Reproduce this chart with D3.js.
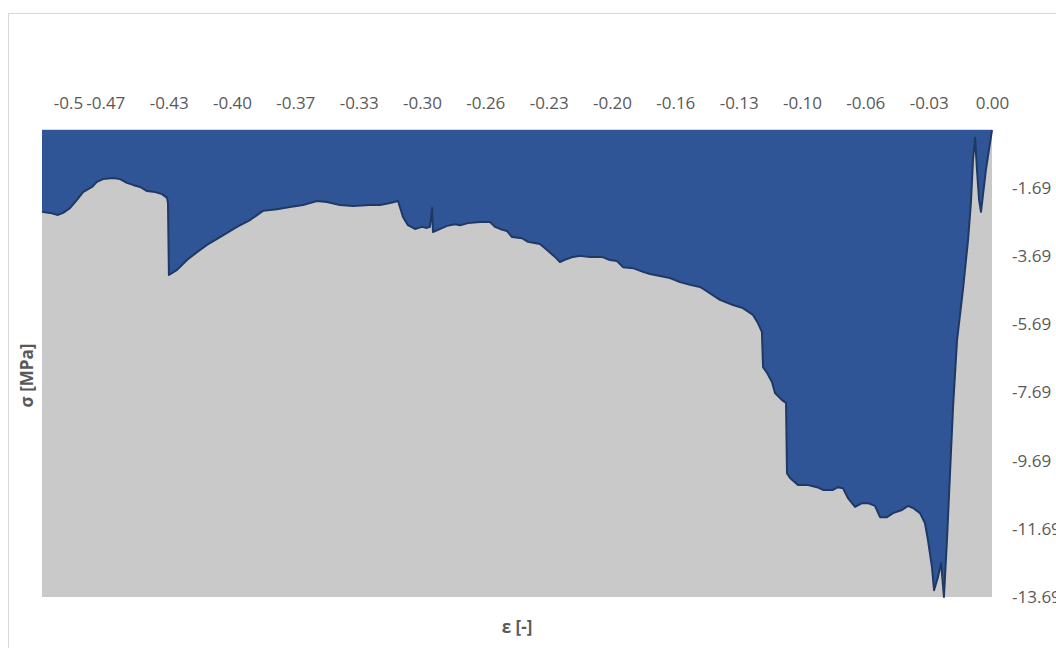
<!DOCTYPE html>
<html>
<head>
<meta charset="utf-8">
<script src="https://cdn.jsdelivr.net/npm/d3@7"></script>
<style>
  html, body { margin: 0; padding: 0; background: #ffffff; overflow: hidden; }
  svg { display: block; }
  text { font-family: "Open Sans", "Liberation Sans", sans-serif; }
</style>
</head>
<body>
<svg id="chart" width="1056" height="648"></svg>
<script>
// ---- data (strain ε [-], stress σ [MPa]) ----
const strain = [0, -0.0032, -0.0058, -0.0068, -0.0079, -0.0089, -0.0100, -0.0111, -0.0126, -0.0153,
  -0.0184, -0.0205, -0.0221, -0.0237, -0.0253, -0.0268, -0.0284, -0.0305, -0.0316, -0.0337,
  -0.0353, -0.0379, -0.0416, -0.0442, -0.0474, -0.0521, -0.0553, -0.0589, -0.0616, -0.0653,
  -0.0684, -0.0721, -0.0758, -0.0784, -0.0811, -0.0837, -0.0889, -0.0921, -0.0968, -0.1021,
  -0.1063, -0.1079, -0.1084, -0.1105, -0.1142, -0.1158, -0.1184, -0.1205, -0.1211, -0.1232,
  -0.1258, -0.1311, -0.1363, -0.1432, -0.1511, -0.1537, -0.1589, -0.1642, -0.1695, -0.1747,
  -0.1800, -0.1837, -0.1889, -0.1942, -0.1974, -0.2011, -0.2053, -0.2116, -0.2168, -0.2205,
  -0.2237, -0.2274, -0.2300, -0.2342, -0.2379, -0.2442, -0.2474, -0.2526, -0.2553, -0.2589,
  -0.2616, -0.2642, -0.2695, -0.2758, -0.2800, -0.2826, -0.2868, -0.2916, -0.2942, -0.2947,
  -0.2958, -0.2974, -0.3000, -0.3037, -0.3074, -0.3100, -0.3116, -0.3126, -0.3168, -0.3221,
  -0.3274, -0.3363, -0.3432, -0.3500, -0.3553, -0.3626, -0.3695, -0.3763, -0.3837, -0.3905,
  -0.3974, -0.4063, -0.4132, -0.4184, -0.4237, -0.4289, -0.4332, -0.4337, -0.4342, -0.4368,
  -0.4405, -0.4447, -0.4484, -0.4521, -0.4553, -0.4589, -0.4626, -0.4679, -0.4711, -0.4737,
  -0.4784, -0.4816, -0.4853, -0.4889, -0.4916, -0.4958, -0.5000];
const stress = [0, -1.17, -2.40, -2.05, -1.17, -0.23, -0.88, -2.14, -3.22, -4.69,
  -6.16, -8.12, -10.06, -12.02, -13.69, -12.69, -13.10, -13.49, -12.81, -12.02,
  -11.52, -11.23, -11.08, -11.02, -11.14, -11.23, -11.35, -11.35, -11.02, -10.94,
  -10.94, -11.05, -10.79, -10.50, -10.47, -10.55, -10.55, -10.47, -10.41, -10.41,
  -10.20, -10.06, -8.00, -7.92, -7.71, -7.39, -7.12, -6.95, -5.92, -5.66,
  -5.42, -5.22, -5.13, -4.98, -4.69, -4.60, -4.54, -4.46, -4.34, -4.28,
  -4.22, -4.16, -4.05, -4.02, -3.84, -3.81, -3.72, -3.72, -3.69, -3.72,
  -3.78, -3.87, -3.72, -3.52, -3.34, -3.28, -3.17, -3.14, -2.96, -2.90,
  -2.84, -2.70, -2.70, -2.73, -2.79, -2.76, -2.81, -2.93, -2.99, -2.29,
  -2.84, -2.87, -2.84, -2.90, -2.79, -2.55, -2.26, -2.08, -2.14, -2.20,
  -2.20, -2.23, -2.20, -2.11, -2.08, -2.20, -2.26, -2.32, -2.37, -2.64,
  -2.84, -3.14, -3.37, -3.58, -3.81, -4.10, -4.25, -2.14, -1.99, -1.88,
  -1.82, -1.79, -1.67, -1.61, -1.55, -1.44, -1.41, -1.44, -1.52, -1.67,
  -1.82, -2.05, -2.29, -2.43, -2.49, -2.43, -2.40];

const xTickValues = [-0.5, -0.4667, -0.4333, -0.4, -0.3667, -0.3333, -0.3, -0.2667,
  -0.2333, -0.2, -0.1667, -0.1333, -0.1, -0.0667, -0.0333, 0];
const xTickLabels = ["-0.5", "-0.47", "-0.43", "-0.40", "-0.37", "-0.33", "-0.30", "-0.26",
  "-0.23", "-0.20", "-0.16", "-0.13", "-0.10", "-0.06", "-0.03", "0.00"];
const yTickValues = [-1.69, -3.69, -5.69, -7.69, -9.69, -11.69, -13.69];
const yTickLabels = ["-1.69", "-3.69", "-5.69", "-7.69", "-9.69", "-11.69", "-13.69"];
const xTitle = "ε [-]";
const yTitle = "σ [MPa]";

// ---- layout ----
const svg = d3.select("#chart");
const plot = { left: 42, right: 992, top: 130, bottom: 597 };

const x = d3.scaleLinear().domain([-0.5, 0]).range([plot.left, plot.right]);
const y = d3.scaleLinear().domain([-13.69, 0]).range([plot.bottom, plot.top]);

const data = strain.map((s, i) => ({ s, v: stress[i] }));

// chart area frame
svg.append("rect")
  .attr("x", 8.5).attr("y", 13.5)
  .attr("width", 1200).attr("height", 800)
  .attr("fill", "#ffffff").attr("stroke", "#d9d9d9").attr("stroke-width", 1);

// plot background
svg.append("rect")
  .attr("x", plot.left).attr("y", plot.top)
  .attr("width", plot.right - plot.left).attr("height", plot.bottom - plot.top)
  .attr("fill", "#c9c9c9");

// area between 0 and curve
const area = d3.area()
  .x(d => x(d.s))
  .y0(y(0))
  .y1(d => y(d.v));

svg.append("path")
  .datum(data)
  .attr("d", area)
  .attr("fill", "#2f5597");

const line = d3.line().x(d => x(d.s)).y(d => y(d.v));
svg.append("path")
  .datum(data)
  .attr("d", line)
  .attr("fill", "none")
  .attr("stroke", "#1f3864")
  .attr("stroke-width", 2)
  .attr("stroke-linejoin", "round");

// top border line of plot
svg.append("line")
  .attr("x1", plot.left).attr("x2", plot.right)
  .attr("y1", plot.top - 0.5).attr("y2", plot.top - 0.5)
  .attr("stroke", "#d9d9d9").attr("stroke-width", 1);

// x axis (top)
const xAxis = d3.axisTop(x)
  .tickValues(xTickValues)
  .tickFormat((d, i) => xTickLabels[i])
  .tickSize(0)
  .tickPadding(21);
const gx = svg.append("g")
  .attr("transform", `translate(0,${plot.top})`)
  .call(xAxis);
gx.select(".domain").remove();
gx.selectAll("text")
  .attr("font-size", 17)
  .attr("fill", "#595959")
  .style("font-family", "'Open Sans', 'Liberation Sans', sans-serif");
gx.selectAll(".tick").filter((d, i) => i === 0)
  .select("text").attr("dx", 26);

// y axis (right)
const yAxis = d3.axisRight(y)
  .tickValues(yTickValues)
  .tickFormat((d, i) => yTickLabels[i])
  .tickSize(0)
  .tickPadding(20);
const gy = svg.append("g")
  .attr("transform", `translate(${plot.right},0)`)
  .call(yAxis);
gy.select(".domain").remove();
gy.selectAll("text")
  .attr("font-size", 17)
  .attr("fill", "#595959")
  .style("font-family", "'Open Sans', 'Liberation Sans', sans-serif");

// axis titles
svg.append("text")
  .attr("x", (plot.left + plot.right) / 2)
  .attr("y", 633)
  .attr("text-anchor", "middle")
  .attr("font-size", 17)
  .attr("font-weight", "bold")
  .attr("fill", "#595959")
  .text(xTitle);

svg.append("text")
  .attr("transform", `translate(33,${(plot.top + plot.bottom) / 2 + 12}) rotate(-90)`)
  .attr("text-anchor", "middle")
  .attr("font-size", 17)
  .attr("font-weight", "bold")
  .attr("fill", "#595959")
  .text(yTitle);
</script>
</body>
</html>
